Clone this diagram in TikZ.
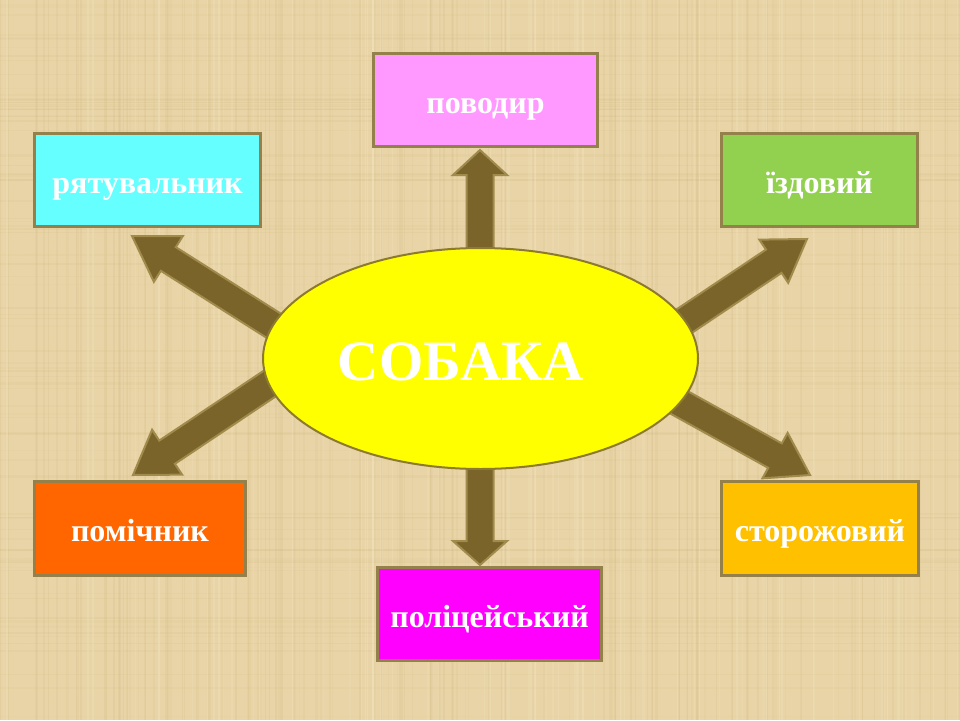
\documentclass[tikz,border=0pt]{standalone}
\usepackage{fontspec}
\setmainfont{Liberation Serif}
\usetikzlibrary{calc,shapes.geometric}
\definecolor{bg}{HTML}{E8D4A6}
\definecolor{bgdark}{HTML}{C9AE78}
\definecolor{bglight}{HTML}{F6E9C8}
\definecolor{boxline}{HTML}{94804A}
\definecolor{elline}{HTML}{8C7A2E}
\definecolor{arrfill}{HTML}{7A6429}
\definecolor{arrline}{HTML}{A08B4C}
\definecolor{cPovodyr}{HTML}{FF99FF}
\definecolor{cRyat}{HTML}{66FFFF}
\definecolor{cIzd}{HTML}{92D050}
\definecolor{cPom}{HTML}{FF6600}
\definecolor{cStor}{HTML}{FFC000}
\definecolor{cPol}{HTML}{FF00FF}
\definecolor{cYel}{HTML}{FFFF00}
\tikzset{
  box/.style={rectangle, draw=boxline, line width=3pt, inner sep=0pt,
    text=white, font=\fontsize{32}{38}\selectfont\bfseries,
    text height=29pt, text depth=3pt},
  arr/.style={draw=arrline, line width=2pt, fill=arrfill, line join=miter},
}
\newcommand\blockarrow[5]{%
  \coordinate (hb) at ($(#2)!#5!(#1)$);
  \draw[arr] ($(#1)!#3!90:(#2)$) -- ($(hb)!#3!90:(#2)$) -- ($(hb)!#4!90:(#2)$)
    -- (#2) -- ($(hb)!#4!-90:(#2)$) -- ($(hb)!#3!-90:(#2)$)
    -- ($(#1)!#3!-90:(#2)$) -- cycle;
}
\begin{document}
\begin{tikzpicture}[x=1pt,y=-1pt]
\useasboundingbox (0,0) rectangle (960,720);
\fill[bg] (0,0) rectangle (960,720);
% parchment texture
\pgfmathsetseed{7}
\begin{scope}
\clip (0,0) rectangle (960,720);
\foreach \i in {1,...,140}{
  \pgfmathsetmacro\xx{rnd*960}
  \pgfmathsetmacro\ww{0.6+rnd*2.2}
  \pgfmathsetmacro\oo{0.05+rnd*0.10}
  \draw[bgdark, line width=\ww pt, opacity=\oo] (\xx,0) -- (\xx,720);
}
\foreach \i in {1,...,90}{
  \pgfmathsetmacro\yy{rnd*720}
  \pgfmathsetmacro\ww{0.6+rnd*2.0}
  \pgfmathsetmacro\oo{0.04+rnd*0.08}
  \draw[bgdark, line width=\ww pt, opacity=\oo] (0,\yy) -- (960,\yy);
}
\foreach \i in {1,...,80}{
  \pgfmathsetmacro\xx{rnd*960}
  \pgfmathsetmacro\ww{0.6+rnd*2.0}
  \pgfmathsetmacro\oo{0.12+rnd*0.18}
  \draw[bglight, line width=\ww pt, opacity=\oo] (\xx,0) -- (\xx,720);
}
\end{scope}
% arrow end points
\coordinate (t1) at (480,300);  \coordinate (p1) at (480,150);
\coordinate (t2) at (480,420);  \coordinate (p2) at (480,565);
\coordinate (t3) at (301,343);  \coordinate (p3) at (132,236);
\coordinate (t4) at (641,350);  \coordinate (p4) at (807,239);
\coordinate (t5) at (299,364);  \coordinate (p5) at (133,475);
\coordinate (t6) at (635,378);  \coordinate (p6) at (810,475);
\blockarrow{t1}{p1}{13.5pt}{27pt}{25pt}
\blockarrow{t2}{p2}{13.5pt}{27pt}{24pt}
\blockarrow{t3}{p3}{14pt}{27pt}{43pt}
\blockarrow{t4}{p4}{14pt}{26pt}{40pt}
\blockarrow{t5}{p5}{14pt}{27pt}{41pt}
\blockarrow{t6}{p6}{14pt}{26pt}{40pt}
% centre
\node[ellipse, draw=elline, line width=2pt, fill=cYel, inner sep=0pt,
  minimum width=435pt, minimum height=221pt] (ell) at (480.5,358.5) {};
\node[anchor=base, inner sep=0pt, text=white,
  font=\fontsize{57}{60}\selectfont\bfseries] (lbl) at (461,380) {СОБАКА};
% boxes
\node[box, fill=cPovodyr, minimum width=224pt, minimum height=93pt] (povodyr) at (485.5,100) {поводир};
\node[box, fill=cRyat, minimum width=226pt, minimum height=93pt] (ryat) at (147.5,180) {рятувальник};
\node[box, fill=cIzd, minimum width=196pt, minimum height=93pt] (izd) at (819.5,180) {їздовий};
\node[box, fill=cPom, minimum width=211pt, minimum height=94pt] (pom) at (140,528.5) {помічник};
\node[box, fill=cStor, minimum width=197pt, minimum height=94pt] (stor) at (820,528.5) {сторожовий};
\node[box, fill=cPol, minimum width=224pt, minimum height=93pt] (pol) at (489.5,614) {поліцейський};
\end{tikzpicture}
\end{document}
